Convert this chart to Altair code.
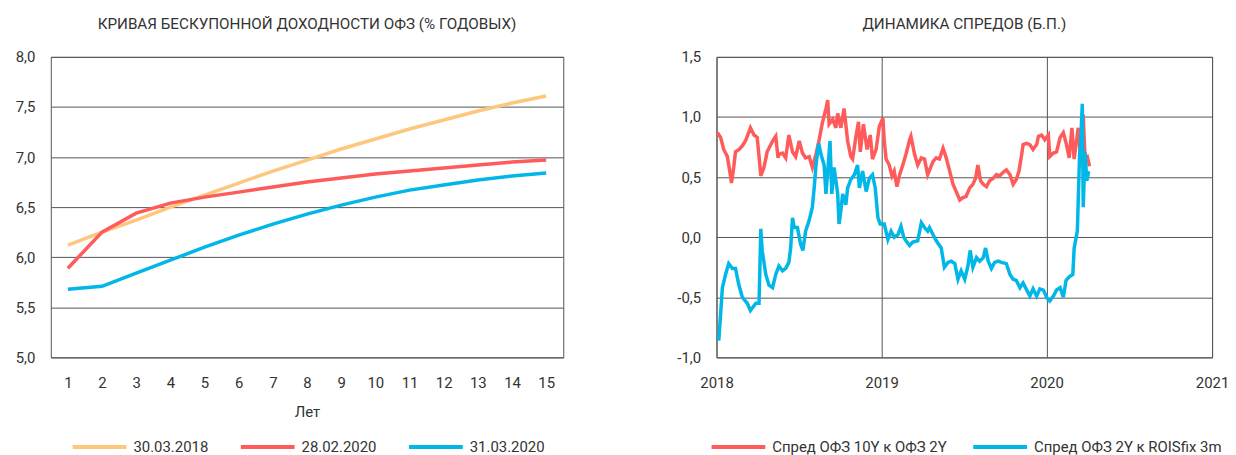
import altair as alt
import pandas as pd

# ---------------- data: zero-coupon OFZ yield curves ----------------
years = list(range(1, 16))
curve_names = ["30.03.2018", "28.02.2020", "31.03.2020"]
curve_colors = ["#FDC77E", "#FF5B5B", "#00B7E8"]
curve_2018 = [6.12, 6.25, 6.37, 6.50, 6.62, 6.74, 6.86, 6.97, 7.08, 7.18, 7.28, 7.37, 7.46, 7.54, 7.61]
curve_feb2020 = [5.89, 6.25, 6.44, 6.54, 6.60, 6.65, 6.70, 6.75, 6.79, 6.83, 6.86, 6.89, 6.92, 6.95, 6.97]
curve_mar2020 = [5.68, 5.71, 5.84, 5.97, 6.10, 6.22, 6.33, 6.43, 6.52, 6.60, 6.67, 6.72, 6.77, 6.81, 6.84]
y_left_ticks = [5.0, 5.5, 6.0, 6.5, 7.0, 7.5, 8.0]

# ---------------- data: spreads (days since 2018-01-01) ----------------
spread_names = ["Спред ОФЗ 10Y к ОФЗ 2Y", "Спред ОФЗ 2Y к ROISfix 3m"]
spread_colors = ["#FF5B5B", "#00B7E8"]
days_10y2y = [2, 9, 16, 24, 31, 33, 38, 42, 50, 57, 64, 75, 83, 90, 98, 105, 112, 124, 131, 136,
              138, 146, 153, 160, 168, 175, 183, 190, 197, 205, 212, 220, 227, 234, 242, 246, 249, 257, 264, 268,
              275, 282, 290, 297, 301, 308, 314, 318, 325, 333, 340, 345, 353, 360, 368, 371, 375, 382, 388, 393,
              399, 405, 412, 419, 427, 430, 438, 445, 453, 460, 467, 479, 486, 493, 501, 508, 515, 523, 530, 538,
              545, 552, 560, 567, 573, 578, 584, 590, 597, 604, 612, 619, 626, 634, 641, 649, 656, 663, 669, 675,
              678, 686, 693, 700, 708, 712, 719, 726, 734, 737, 745, 752, 760, 767, 774, 780, 786, 791, 800, 805,
              811, 815, 820, 825]
vals_10y2y = [0.87, 0.83, 0.73, 0.67, 0.51, 0.45, 0.58, 0.71, 0.73, 0.76, 0.80, 0.91, 0.85, 0.83, 0.51, 0.58, 0.71, 0.80, 0.84, 0.66,
              0.69, 0.70, 0.66, 0.85, 0.71, 0.67, 0.80, 0.70, 0.66, 0.67, 0.58, 0.69, 0.81, 0.95, 1.07, 1.14, 0.94, 0.98, 0.91, 1.03,
              0.91, 1.07, 0.80, 0.67, 0.65, 0.83, 0.96, 0.71, 0.94, 0.73, 0.85, 0.65, 0.73, 0.92, 0.99, 0.80, 0.65, 0.60, 0.51, 0.55,
              0.42, 0.52, 0.60, 0.69, 0.81, 0.84, 0.69, 0.60, 0.66, 0.65, 0.52, 0.63, 0.66, 0.65, 0.74, 0.66, 0.56, 0.44, 0.38, 0.31,
              0.33, 0.34, 0.41, 0.44, 0.49, 0.60, 0.47, 0.44, 0.42, 0.47, 0.49, 0.52, 0.51, 0.54, 0.56, 0.52, 0.44, 0.48, 0.55, 0.69,
              0.77, 0.78, 0.77, 0.73, 0.77, 0.84, 0.85, 0.81, 0.85, 0.67, 0.70, 0.71, 0.83, 0.87, 0.77, 0.66, 0.91, 0.65, 0.91, 0.69,
              1.02, 0.66, 0.67, 0.59]
days_2y_rois = [5, 9, 13, 20, 27, 35, 42, 49, 57, 68, 75, 87, 94, 98, 101, 109, 116, 124, 131, 138,
                146, 153, 160, 164, 168, 172, 179, 186, 191, 197, 205, 212, 216, 220, 226, 231, 238, 242, 246, 251,
                255, 260, 268, 271, 275, 279, 286, 290, 297, 305, 312, 316, 323, 331, 338, 345, 351, 357, 362, 371,
                379, 386, 393, 401, 408, 414, 419, 427, 434, 445, 453, 460, 467, 471, 479, 486, 497, 504, 512, 519,
                527, 534, 541, 549, 556, 561, 567, 575, 582, 590, 595, 601, 608, 615, 623, 630, 641, 649, 656, 663,
                671, 678, 686, 693, 700, 708, 715, 723, 730, 737, 745, 752, 760, 767, 773, 780, 788, 791, 798, 803,
                805, 809, 811, 815, 819, 823]
vals_2y_rois = [-0.86, -0.64, -0.42, -0.31, -0.22, -0.26, -0.26, -0.39, -0.50, -0.55, -0.61, -0.55, -0.55, 0.07, -0.11, -0.31, -0.40, -0.42, -0.31, -0.24,
                -0.28, -0.26, -0.21, -0.09, 0.16, 0.08, 0.08, -0.06, -0.11, 0.05, 0.14, 0.25, 0.41, 0.60, 0.78, 0.69, 0.60, 0.36, 0.55, 0.80,
                0.36, 0.58, 0.36, 0.11, 0.22, 0.36, 0.27, 0.41, 0.48, 0.52, 0.60, 0.41, 0.55, 0.38, 0.49, 0.52, 0.41, 0.16, 0.11, 0.11,
                -0.02, 0.05, 0.00, 0.02, 0.09, 0.00, -0.03, -0.07, -0.04, -0.03, 0.12, 0.08, 0.05, 0.08, 0.02, -0.03, -0.09, -0.25, -0.21, -0.20,
                -0.22, -0.35, -0.28, -0.35, -0.24, -0.11, -0.25, -0.17, -0.20, -0.17, -0.09, -0.20, -0.26, -0.21, -0.20, -0.21, -0.22, -0.31, -0.35, -0.36,
                -0.42, -0.38, -0.44, -0.49, -0.43, -0.49, -0.43, -0.44, -0.50, -0.53, -0.49, -0.44, -0.42, -0.50, -0.36, -0.33, -0.31, -0.09, 0.05, 0.69,
                0.77, 1.11, 0.25, 0.71, 0.47, 0.55]
y_right_ticks = [-1.0, -0.5, 0.0, 0.5, 1.0, 1.5]
year_ticks = [2018, 2019, 2020, 2021]

# ---------------- tables ----------------
curve_rows = []
for name, vals in zip(curve_names, [curve_2018, curve_feb2020, curve_mar2020]):
    for yr, v in zip(years, vals):
        curve_rows.append({"year": yr, "value": v, "series": name})
df_curve = pd.DataFrame(curve_rows)

base_date = pd.Timestamp("2018-01-01")
spread_rows = []
for name, days, vals in zip(spread_names, [days_10y2y, days_2y_rois], [vals_10y2y, vals_2y_rois]):
    for d, v in zip(days, vals):
        spread_rows.append({"date": base_date + pd.Timedelta(days=d), "value": v, "series": name})
df_spread = pd.DataFrame(spread_rows)

FONT = "Roboto"
TXT = "#333333"
comma_expr = "(datum.value < 0 ? '-' : '') + replace(format(abs(datum.value), '.1f'), '.', ',')"

def title(text):
    return alt.TitleParams(text, font=FONT, fontSize=15.3, fontWeight="normal", color=TXT,
                           anchor="middle", offset=18)

left = alt.Chart(df_curve).mark_line(strokeWidth=3.5).encode(
    x=alt.X("year:Q",
            scale=alt.Scale(domain=[0.5, 15.5], nice=False, zero=False),
            axis=alt.Axis(values=years, format="d", title="Лет", grid=False, ticks=False,
                          domain=False, labelPadding=18, titlePadding=14, labelFlush=False)),
    y=alt.Y("value:Q",
            scale=alt.Scale(domain=[5, 8], nice=False, zero=False),
            axis=alt.Axis(values=y_left_ticks, labelExpr=comma_expr, title=None, ticks=False,
                          domain=False, labelPadding=16, grid=True)),
    color=alt.Color("series:N",
                    scale=alt.Scale(domain=curve_names, range=curve_colors),
                    legend=alt.Legend(title=None, orient="none", direction="horizontal",
                                      legendX=20, legendY=363, columnPadding=24)),
).properties(width=515, height=302, title=title("КРИВАЯ БЕСКУПОННОЙ ДОХОДНОСТИ ОФЗ (% ГОДОВЫХ)"))

right = alt.Chart(df_spread).mark_line(strokeWidth=3.5).encode(
    x=alt.X("date:T",
            scale=alt.Scale(domain=[alt.DateTime(year=2018, month=1, date=1),
                                    alt.DateTime(year=2021, month=1, date=1)], nice=False),
            axis=alt.Axis(values=[alt.DateTime(year=y, month=1, date=1) for y in year_ticks],
                          format="%Y", title=None, grid=True, ticks=False, domain=False,
                          labelPadding=18, labelFlush=False)),
    y=alt.Y("value:Q",
            scale=alt.Scale(domain=[-1.0, 1.5], nice=False, zero=False),
            axis=alt.Axis(values=y_right_ticks, labelExpr=comma_expr, title=None, ticks=False,
                          domain=False, labelPadding=16, grid=True)),
    color=alt.Color("series:N",
                    scale=alt.Scale(domain=spread_names, range=spread_colors),
                    legend=alt.Legend(title=None, orient="none", direction="horizontal",
                                      legendX=-7, legendY=363, columnPadding=18)),
).properties(width=498, height=302, title=title("ДИНАМИКА СПРЕДОВ (Б.П.)"))

chart = alt.hconcat(left, right, spacing=112).resolve_scale(
    color="independent"
).resolve_legend(color="independent").properties(
    padding={"left": 6, "top": 7, "right": -2, "bottom": 0}
).configure_view(
    stroke="#555555", strokeWidth=1
).configure_axis(
    labelFont=FONT, labelFontSize=15, labelColor=TXT,
    titleFont=FONT, titleFontSize=15, titleColor=TXT, titleFontWeight="normal",
    gridColor="#555555", gridWidth=1, gridOpacity=1
).configure_legend(
    labelFont=FONT, labelFontSize=15, labelColor=TXT, labelLimit=400,
    symbolType="stroke", symbolStrokeWidth=4, symbolSize=2916, labelOffset=5, padding=0
)

chart.save("out.html", embed_options={"renderer": "svg", "actions": False})
